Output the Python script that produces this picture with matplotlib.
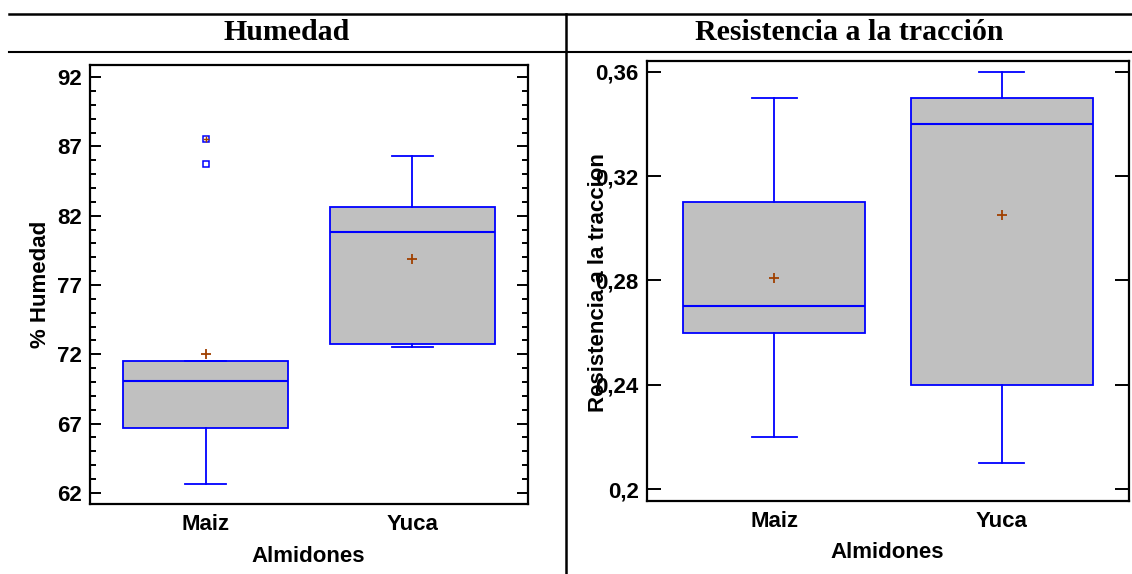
import matplotlib
matplotlib.use("Agg")
import matplotlib.pyplot as plt
from matplotlib.lines import Line2D
from matplotlib.ticker import FixedLocator, MultipleLocator

W, H = 1132, 574

groups = ["Maiz", "Yuca"]

# Humedad (%)
hum_whislo = [62.65, 72.5]
hum_q1 = [66.7, 72.75]
hum_med = [70.1, 80.8]
hum_q3 = [71.5, 82.6]
hum_whishi = [71.5, 86.3]
hum_mean = [72.0, 78.9]
hum_fliers = [[87.5, 85.7], []]
hum_far = [[87.5], []]

# Resistencia a la traccion
res_whislo = [0.22, 0.21]
res_q1 = [0.26, 0.24]
res_med = [0.27, 0.34]
res_q3 = [0.31, 0.35]
res_whishi = [0.35, 0.36]
res_mean = [0.281, 0.305]

res_ticks = [0.2, 0.24, 0.28, 0.32, 0.36]
res_ticklabels = ["0,2", "0,24", "0,28", "0,32", "0,36"]

BLUE = "#0000ff"
GREY = "#c0c0c0"
BROWN = "#a04000"
SANS = ["Liberation Sans", "DejaVu Sans"]
SERIF = ["Liberation Serif", "DejaVu Serif"]
FS = 16

plt.rcParams["font.family"] = SANS
plt.rcParams["font.weight"] = "bold"

fig = plt.figure(figsize=(W / 100, H / 100), dpi=100)


def px_axes(x0, y0, x1, y1):
    return fig.add_axes([x0 / W, 1 - y1 / H, (x1 - x0) / W, (y1 - y0) / H])


def draw_boxes(ax, whislo, q1, med, q3, whishi, mean, fliers):
    stats = []
    for i in range(len(groups)):
        stats.append(dict(whislo=whislo[i], q1=q1[i], med=med[i], q3=q3[i],
                          whishi=whishi[i], mean=mean[i], fliers=fliers[i]))
    ax.bxp(stats, positions=[1, 2], widths=0.8, patch_artist=True,
           showmeans=True, showfliers=True, capwidths=0.2,
           boxprops=dict(facecolor=GREY, edgecolor=BLUE, linewidth=1.3),
           medianprops=dict(color=BLUE, linewidth=1.5),
           whiskerprops=dict(color=BLUE, linewidth=1.3),
           capprops=dict(color=BLUE, linewidth=1.3),
           meanprops=dict(marker="+", markeredgecolor=BROWN, markersize=7,
                          markeredgewidth=1.3),
           flierprops=dict(marker="s", markerfacecolor="none",
                           markeredgecolor=BLUE, markersize=5,
                           markeredgewidth=1.1))
    ax.set_xlim(0.44, 2.56)
    ax.set_xticks([1, 2])
    ax.set_xticklabels(groups, fontsize=FS, fontweight="bold")
    ax.tick_params(axis="x", length=0, pad=7)
    for s in ax.spines.values():
        s.set_linewidth(1.6)


# left panel
ax1 = px_axes(90, 65, 528, 504)
draw_boxes(ax1, hum_whislo, hum_q1, hum_med, hum_q3, hum_whishi, hum_mean,
           hum_fliers)
for i, vals in enumerate(hum_far):
    for v in vals:
        ax1.plot([i + 1], [v], marker="+", color=BROWN, markersize=4,
                 markeredgewidth=1.0)
ax1.set_ylim(61.2, 92.87)
ax1.yaxis.set_major_locator(FixedLocator([62, 67, 72, 77, 82, 87, 92]))
ax1.yaxis.set_minor_locator(MultipleLocator(1))
ax1.tick_params(axis="y", which="both", direction="in", left=True, right=True,
                labelsize=FS, width=1.4, pad=6)
ax1.tick_params(axis="y", which="major", length=8)
ax1.tick_params(axis="y", which="minor", length=4)
for lab in ax1.get_yticklabels():
    lab.set_fontweight("bold")

# right panel
ax2 = px_axes(647, 61, 1129, 501)
draw_boxes(ax2, res_whislo, res_q1, res_med, res_q3, res_whishi, res_mean,
           [[], []])
ax2.set_ylim(0.1954, 0.3641)
ax2.set_yticks(res_ticks)
ax2.set_yticklabels(res_ticklabels, fontsize=FS, fontweight="bold")
ax2.tick_params(axis="y", which="both", direction="in", left=True, right=True,
                length=10, width=1.4, pad=6)

# axis labels
fig.text(40 / W, 1 - 284 / H, "% Humedad", rotation=90, ha="center",
         va="center", fontsize=FS, fontweight="bold")
fig.text(598 / W, 1 - 283 / H, "Resistencia a la traccion", rotation=90,
         ha="center", va="center", fontsize=FS, fontweight="bold")
fig.text(308 / W, 1 - 557 / H, "Almidones", ha="center", va="center",
         fontsize=FS, fontweight="bold")
fig.text(887 / W, 1 - 552 / H, "Almidones", ha="center", va="center",
         fontsize=FS, fontweight="bold")

# titles
fig.text(287 / W, 1 - 33 / H, "Humedad", ha="center", va="center",
         fontsize=21.5, fontweight="bold", family=SERIF)
fig.text(849 / W, 1 - 33 / H, "Resistencia a la tracción", ha="center",
         va="center", fontsize=21.5, fontweight="bold", family=SERIF)

# table frame lines
fig.add_artist(Line2D([9 / W, 1], [1 - 13.5 / H, 1 - 13.5 / H],
                      color="black", linewidth=1.8))
fig.add_artist(Line2D([9 / W, 1], [1 - 52 / H, 1 - 52 / H],
                      color="black", linewidth=1.5))
fig.add_artist(Line2D([565.5 / W, 565.5 / W], [0, 1 - 13.5 / H],
                      color="black", linewidth=1.8))

fig.savefig("out.png", dpi=100)
